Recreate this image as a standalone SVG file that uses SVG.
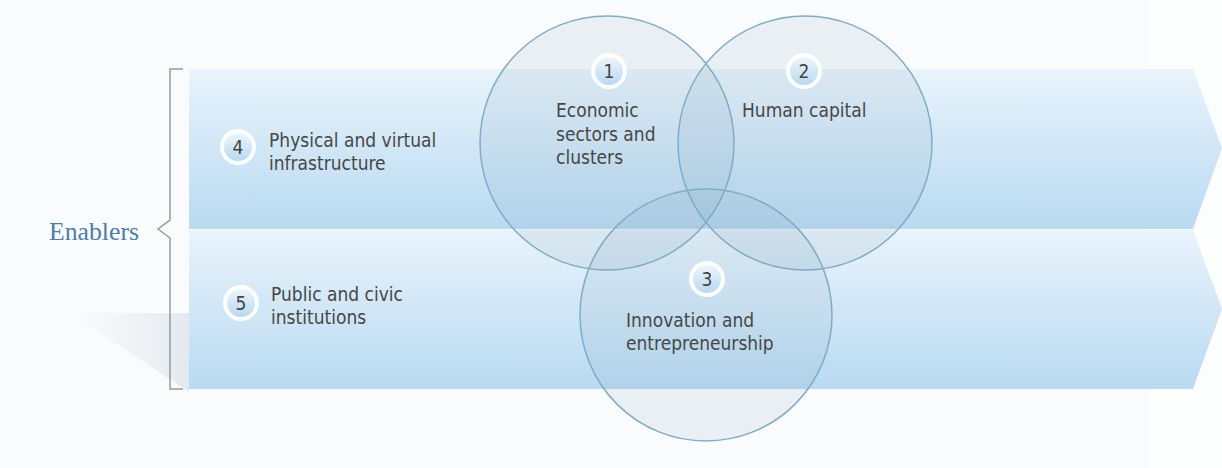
<svg xmlns="http://www.w3.org/2000/svg" width="1222" height="468" viewBox="0 0 1222 468">
<defs>
<linearGradient id="band" x1="0" y1="0" x2="0" y2="1">
<stop offset="0" stop-color="#e9f3fb"/>
<stop offset="1" stop-color="#b9daf1"/>
</linearGradient>
<linearGradient id="badge" x1="0" y1="0" x2="0" y2="1">
<stop offset="0" stop-color="#eef6fc"/>
<stop offset="1" stop-color="#b8d8ef"/>
</linearGradient>
<linearGradient id="shadow" x1="0" y1="0" x2="1" y2="0">
<stop offset="0" stop-color="#e9eef2" stop-opacity="0"/>
<stop offset="1" stop-color="#e3e9ee" stop-opacity="1"/>
</linearGradient>
<style>
.lbl{font-family:"DejaVu Sans Condensed","DejaVu Sans",sans-serif;font-stretch:condensed;font-size:19px;fill:#474747}
.num{font-family:"DejaVu Sans Condensed","DejaVu Sans",sans-serif;font-stretch:condensed;font-size:19px;fill:#444;text-anchor:middle}
.ring{fill:#ffffff;fill-opacity:0.95}
.core{fill:url(#badge)}
.venn{fill:#7f9fb6;fill-opacity:0.13;stroke:#7fadc6;stroke-width:1.5}
</style>
</defs>
<rect width="1222" height="468" fill="#fafbfc"/>
<rect x="1148" y="0" width="74" height="468" fill="#fcfdfd"/>
<polygon points="70,313 189,313 189,392" fill="url(#shadow)"/>

<g id="band-top">
<polygon points="189,69 1193,69 1222,148 1193,229 189,229" fill="url(#band)"/>
</g>
<g id="band-bottom">
<polygon points="189,230 1193,230 1222,309 1193,389 189,389" fill="url(#band)"/>
</g>

<g id="enablers">
<path d="M183,69 H170 V220 L158,229 L170,238 V389 H183" fill="none" stroke="#999" stroke-width="1.5"/>
<text x="49" y="240" font-family="'Liberation Serif',serif" font-size="25" fill="#4d7cb0" textLength="90" lengthAdjust="spacingAndGlyphs">Enablers</text>
</g>

<g id="node4">
<circle class="ring" cx="238" cy="147" r="18"/>
<circle class="core" cx="238" cy="147" r="14"/>
<text class="num" x="238" y="154">4</text>
<text class="lbl" x="269" y="147">Physical and virtual</text>
<text class="lbl" x="269" y="170">infrastructure</text>
</g>
<g id="node5">
<circle class="ring" cx="241" cy="303" r="18"/>
<circle class="core" cx="241" cy="303" r="14"/>
<text class="num" x="241" y="310">5</text>
<text class="lbl" x="271" y="301">Public and civic</text>
<text class="lbl" x="271" y="324">institutions</text>
</g>

<g id="node1">
<circle class="venn" cx="607" cy="143" r="127"/>
</g>
<g id="node2">
<circle class="venn" cx="805" cy="143" r="127"/>
</g>
<g id="node3">
<circle class="venn" cx="706" cy="315" r="126"/>
</g>

<g id="labels1">
<circle class="ring" cx="609" cy="71" r="18"/>
<circle class="core" cx="609" cy="71" r="14"/>
<text class="num" x="609" y="78">1</text>
<text class="lbl" x="556" y="117">Economic</text>
<text class="lbl" x="556" y="140.5">sectors and</text>
<text class="lbl" x="556" y="164">clusters</text>
</g>
<g id="labels2">
<circle class="ring" cx="804" cy="71" r="18"/>
<circle class="core" cx="804" cy="71" r="14"/>
<text class="num" x="804" y="78">2</text>
<text class="lbl" x="742" y="117">Human capital</text>
</g>
<g id="labels3">
<circle class="ring" cx="707" cy="279" r="18"/>
<circle class="core" cx="707" cy="279" r="14"/>
<text class="num" x="707" y="286">3</text>
<text class="lbl" x="626" y="327">Innovation and</text>
<text class="lbl" x="626" y="350">entrepreneurship</text>
</g>
<g id="connectors"/>
</svg>
